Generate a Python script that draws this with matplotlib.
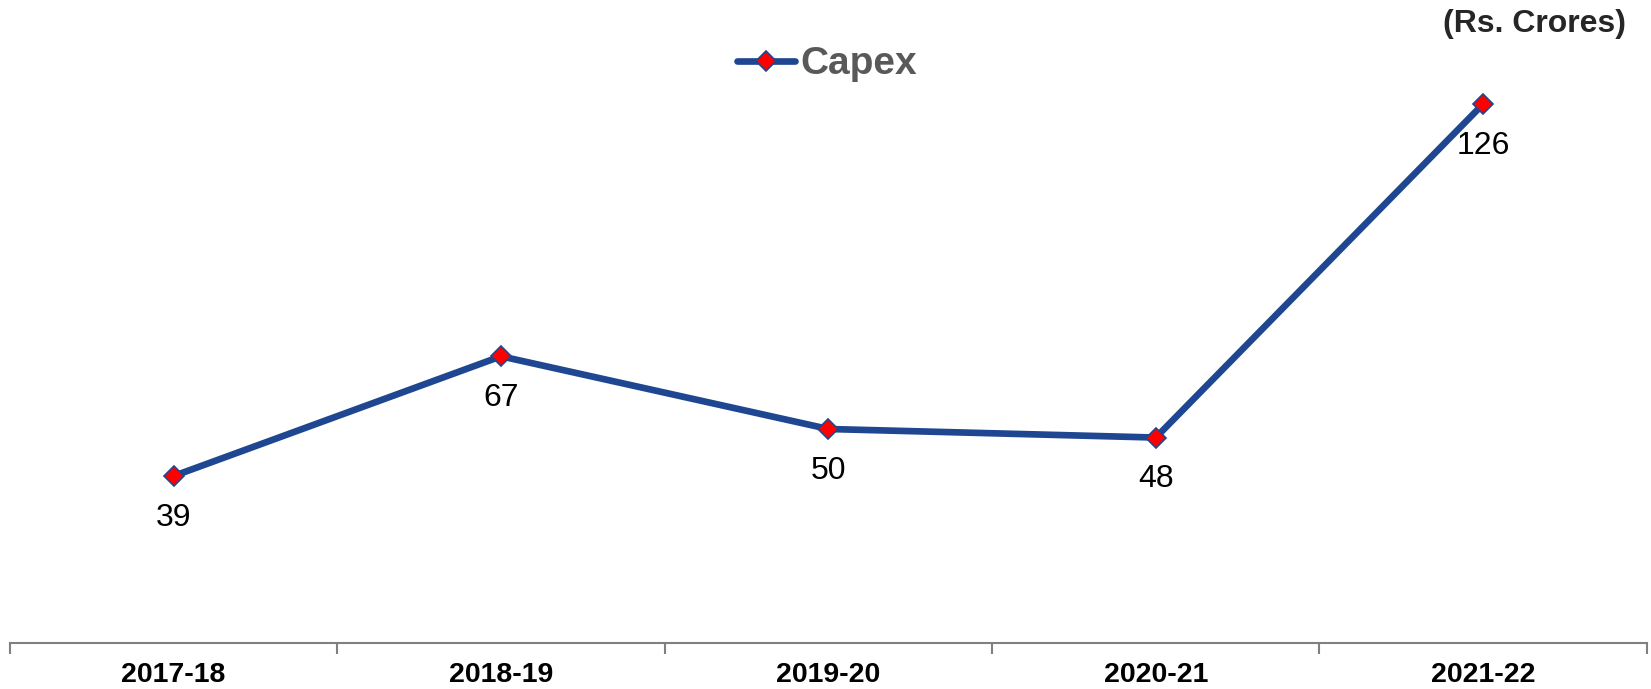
import matplotlib.pyplot as plt
import numpy as np
from matplotlib.ticker import FixedLocator

plt.rcParams["font.family"] = ["Liberation Sans", "DejaVu Sans"]

# ── Data ─────────────────────────────────────────────────────────────────────
years = ["2017-18", "2018-19", "2019-20", "2020-21", "2021-22"]
capex = [39, 67, 50, 48, 126]

LINE_BLUE = "#1F4690"
MARKER_RED = "#FF0000"

fig = plt.figure(figsize=(16.51, 6.89), dpi=100)
ax = fig.add_axes([0.006, 0.067, 0.9915, 0.869])

x = np.arange(len(years))
line, = ax.plot(x, capex, color=LINE_BLUE, lw=4.8, solid_capstyle="round",
                marker="D", markersize=10, markerfacecolor=MARKER_RED,
                markeredgecolor=LINE_BLUE, markeredgewidth=1.2, label="Capex")

for xi, v in zip(x, capex):
    ax.annotate(f"{v}", (xi, v), xytext=(0, -30), textcoords="offset points",
                ha="center", va="center", fontsize=23, color="#000000")

ax.set_xlim(-0.5, len(years) - 0.5)
ax.set_ylim(0, 140)
ax.set_yticks([])
for s in ("top", "right", "left"):
    ax.spines[s].set_visible(False)
ax.spines["bottom"].set_color("#808080")
ax.spines["bottom"].set_linewidth(1.5)

ax.set_xticks(x)
ax.set_xticklabels(years, fontsize=20.5, fontweight="bold")
ax.tick_params(axis="x", which="major", length=0, pad=14)
ax.xaxis.set_minor_locator(FixedLocator(np.arange(-0.5, len(years), 1.0)))
ax.tick_params(axis="x", which="minor", length=8, width=1.5, color="#808080",
               direction="out")

leg = ax.legend(handles=[line], loc="center", bbox_to_anchor=(0.499, 0.966),
                frameon=False, prop={"size": 28, "weight": "bold"},
                handlelength=1.5, handletextpad=0.13)
for t in leg.get_texts():
    t.set_color("#595959")

fig.text(0.985, 0.965, "(Rs. Crores)", ha="right", va="center",
         fontsize=23, fontweight="bold", color="#262626")

fig.savefig("out.png", dpi=100)
